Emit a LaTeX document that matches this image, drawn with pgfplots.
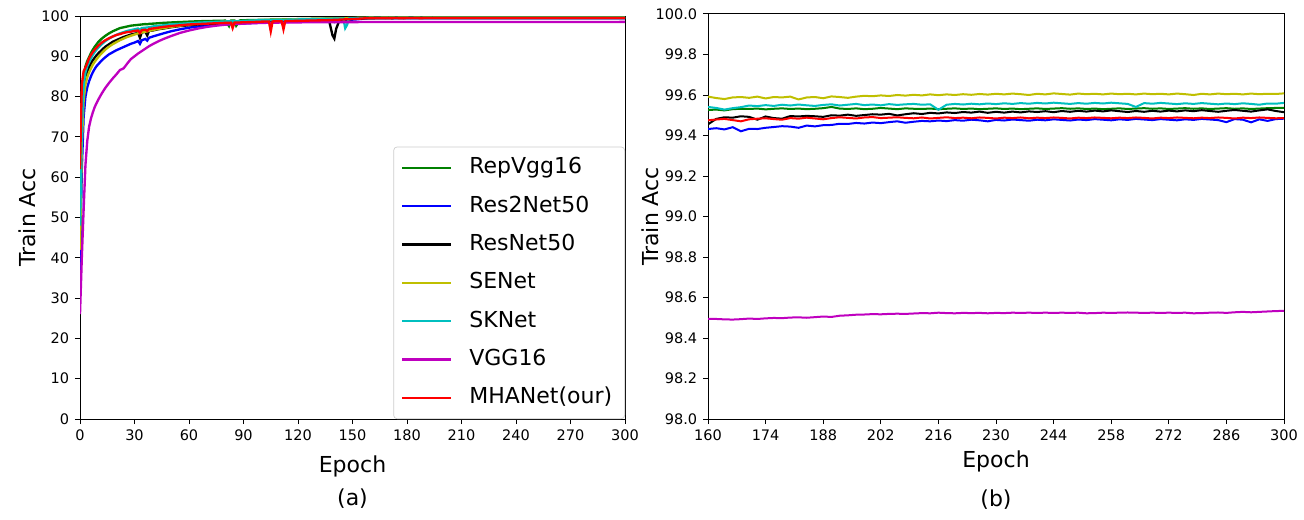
\documentclass[border=0pt]{standalone}
\usepackage{fontspec}
\setmainfont{DejaVu Sans}
\usepackage{pgfplots}
\usepackage{pgfplotstable}
\pgfplotsset{compat=1.18}
\definecolor{mg}{rgb}{0,0.5,0}
\definecolor{mb}{rgb}{0,0,1}
\definecolor{mk}{rgb}{0,0,0}
\definecolor{my}{rgb}{0.75,0.75,0}
\definecolor{mc}{rgb}{0,0.75,0.75}
\definecolor{mm}{rgb}{0.75,0,0.75}
\definecolor{mr}{rgb}{1,0,0}

\pgfplotstableread{
ep G B K Y C M R
0 40 35 50 42 48 26 62
1 75 62 74 68 72 40 83
2 85 75 82.5 79 83 52 86.3
3 87.5 80 85 83 86 63 87.2
4 88.8 82.3 86.3 84.8 87.5 69 88.3
5 89.8 83.8 87.3 86.0 88.5 72.5 89.5
6 90.8 85.0 88.2 87.0 89.5 74.5 90.3
7 91.6 86.0 89.0 87.9 90.3 76.0 91.0
8 92.3 86.8 89.6 88.6 91.0 77.3 91.6
9 92.9 87.5 90.2 89.2 91.6 78.3 92.1
10 93.5 88.0 90.7 89.8 92.1 79.2 92.6
12 94.4 89.0 91.6 90.8 93.0 80.8 93.4
14 95.1 89.8 92.4 91.7 93.8 82.2 94.0
16 95.7 90.5 93.0 92.4 94.4 83.4 94.5
18 96.2 91.0 93.6 93.0 94.9 84.5 94.9
20 96.6 91.5 94.0 93.5 95.3 85.5 95.3
22 97.0 91.9 94.4 94.0 95.7 86.6 95.5
24 97.2 92.3 94.8 94.4 96.0 87.0 95.8
26 97.4 92.7 95.1 94.8 96.3 88.2 96.0
28 97.6 93.1 95.4 95.1 96.5 89.3 96.1
30 97.7 93.4 95.6 95.4 96.7 90.0 96.3
32 97.8 93.8 95.8 95.7 96.9 90.7 96.4
33 97.85 93.1 94.6 95.8 96.6 91.0 95.8
34 97.9 94.0 95.9 95.9 97.0 91.3 96.5
36 98.0 94.3 96.1 96.1 97.1 91.9 96.6
37 97.95 93.9 95.2 96.2 97.15 92.2 96.3
38 98.05 94.6 96.3 96.3 97.2 92.5 96.8
40 98.1 94.9 96.4 96.5 97.4 93.0 96.9
43 98.2 95.3 96.7 96.8 97.55 93.7 97.1
46 98.3 95.7 96.9 97.0 97.7 94.3 97.3
50 98.4 96.2 97.2 97.3 97.9 95.0 97.5
55 98.5 96.7 97.5 97.6 98.05 95.8 97.7
60 98.6 97.1 97.7 97.9 98.2 96.4 97.9
65 98.7 97.4 97.9 98.1 98.35 96.9 98.0
70 98.75 97.6 98.05 98.3 98.45 97.3 98.1
75 98.8 97.8 98.15 98.45 98.55 97.6 98.2
80 98.85 97.95 98.25 98.6 98.65 97.85 98.3
82 97.5 98.0 98.3 98.62 98.67 97.9 98.3
83 98.85 98.0 98.3 98.63 98.68 97.95 98.35
84 98.9 98.05 98.32 98.64 98.69 97.97 97.0
85 98.9 98.05 98.33 98.65 98.7 98.0 98.35
86 97.6 98.1 98.35 98.66 98.71 98.02 98.4
88 98.9 98.1 98.38 98.68 98.73 98.05 98.4
90 98.95 98.15 98.4 98.7 98.8 98.1 98.45
95 99.0 98.25 98.5 98.82 98.88 98.2 98.5
100 99.05 98.35 98.6 98.95 98.95 98.28 98.6
104 99.08 98.42 98.65 99.0 99.0 98.32 98.65
105 99.1 98.43 98.66 99.01 99.01 98.33 96.2
106 99.1 98.45 98.68 99.02 99.02 98.34 98.65
108 99.12 98.47 98.7 99.05 99.03 98.35 98.7
110 99.15 98.5 98.72 99.08 99.05 98.37 98.7
111 99.15 98.5 98.73 99.09 99.06 98.38 98.7
112 99.16 98.52 98.74 99.1 99.07 98.38 96.7
113 99.17 98.53 98.75 99.11 99.08 98.39 98.75
115 99.18 98.55 98.77 99.13 99.1 98.4 98.75
120 99.22 98.62 98.85 99.2 99.15 98.42 98.8
125 99.26 98.7 98.92 99.25 99.2 98.44 98.85
130 99.3 98.78 99.0 99.3 99.25 98.45 98.9
135 99.34 98.85 99.05 99.35 99.3 98.46 98.95
137 99.35 98.88 99.08 99.37 99.32 98.47 98.98
139 99.37 98.8 95.2 99.38 99.33 98.47 99.02
140 99.38 98.5 94.4 99.39 99.35 98.48 99.05
141 99.38 98.85 96.8 99.4 99.35 98.48 99.06
143 99.4 98.95 99.15 99.42 99.37 98.48 99.1
145 99.42 99.0 99.2 99.44 99.4 98.49 99.15
146 99.43 99.02 99.22 99.45 97.0 98.49 99.17
147 99.43 99.04 99.24 99.46 97.8 98.49 99.19
148 99.44 99.06 99.26 99.47 99.4 98.49 99.21
150 99.46 99.1 99.3 99.5 99.45 98.49 99.25
153 99.48 99.2 99.36 99.53 99.48 98.49 99.32
156 99.5 99.33 99.42 99.56 99.51 98.5 99.4
158 99.52 99.42 99.45 99.58 99.53 98.495 99.45
}\early

\pgfplotstableread{
ep G B K Y C M R
160 99.526 99.432 99.455 99.592 99.541 98.495 99.475
162 99.528 99.436 99.482 99.585 99.536 98.494 99.479
164 99.524 99.430 99.490 99.580 99.528 98.492 99.482
166 99.530 99.441 99.488 99.588 99.535 98.491 99.476
168 99.532 99.421 99.495 99.590 99.540 98.493 99.470
170 99.531 99.433 99.492 99.586 99.548 98.496 99.480
172 99.533 99.432 99.478 99.592 99.545 98.494 99.483
174 99.529 99.438 99.494 99.583 99.550 98.497 99.485
176 99.532 99.442 99.486 99.590 99.546 98.499 99.481
178 99.534 99.446 99.483 99.588 99.552 98.498 99.478
180 99.531 99.444 99.496 99.592 99.548 98.501 99.486
182 99.533 99.438 99.494 99.578 99.553 98.502 99.483
184 99.530 99.449 99.497 99.588 99.549 98.500 99.488
186 99.532 99.445 99.495 99.590 99.546 98.503 99.484
188 99.535 99.451 99.492 99.584 99.551 98.506 99.480
190 99.541 99.452 99.500 99.593 99.554 98.504 99.486
192 99.533 99.458 99.498 99.590 99.548 98.510 99.490
194 99.531 99.457 99.503 99.586 99.552 98.512 99.487
196 99.534 99.462 99.497 99.592 99.556 98.515 99.484
198 99.530 99.459 99.501 99.596 99.550 98.516 99.489
200 99.532 99.464 99.505 99.594 99.553 98.518 99.491
202 99.536 99.461 99.503 99.598 99.549 98.517 99.486
204 99.533 99.466 99.507 99.595 99.555 98.519 99.488
206 99.530 99.470 99.499 99.600 99.551 98.520 99.490
208 99.534 99.463 99.505 99.597 99.554 98.519 99.487
210 99.532 99.468 99.510 99.601 99.556 98.521 99.485
212 99.531 99.472 99.506 99.598 99.552 98.523 99.489
214 99.533 99.470 99.512 99.603 99.554 98.522 99.484
216 99.530 99.474 99.509 99.599 99.527 98.525 99.487
218 99.532 99.471 99.514 99.603 99.552 98.523 99.490
220 99.534 99.476 99.511 99.600 99.556 98.522 99.486
222 99.531 99.473 99.516 99.604 99.553 98.524 99.488
224 99.533 99.478 99.513 99.601 99.557 98.523 99.485
226 99.530 99.475 99.518 99.605 99.554 98.524 99.489
228 99.532 99.470 99.512 99.602 99.558 98.522 99.487
230 99.534 99.477 99.517 99.606 99.555 98.524 99.484
232 99.531 99.474 99.513 99.603 99.559 98.523 99.488
234 99.533 99.479 99.518 99.607 99.556 98.525 99.486
236 99.530 99.476 99.514 99.604 99.560 98.524 99.489
238 99.532 99.473 99.519 99.600 99.557 98.525 99.485
240 99.534 99.478 99.516 99.606 99.561 98.524 99.488
242 99.531 99.475 99.520 99.603 99.558 98.525 99.486
244 99.533 99.480 99.515 99.608 99.562 98.524 99.489
246 99.535 99.477 99.521 99.605 99.559 98.525 99.487
248 99.532 99.474 99.517 99.602 99.556 98.524 99.484
250 99.534 99.479 99.522 99.607 99.560 98.525 99.488
252 99.531 99.476 99.518 99.604 99.557 98.522 99.486
254 99.533 99.481 99.523 99.606 99.561 98.523 99.489
256 99.530 99.478 99.519 99.603 99.558 98.525 99.487
258 99.532 99.475 99.524 99.607 99.562 98.524 99.485
260 99.534 99.480 99.520 99.604 99.559 98.525 99.488
262 99.531 99.477 99.516 99.606 99.556 98.526 99.486
264 99.533 99.482 99.521 99.603 99.541 98.525 99.489
266 99.535 99.479 99.517 99.607 99.560 98.524 99.487
268 99.532 99.476 99.522 99.604 99.557 98.525 99.484
270 99.534 99.481 99.518 99.606 99.561 98.524 99.488
272 99.531 99.478 99.523 99.603 99.558 98.525 99.486
274 99.533 99.475 99.519 99.607 99.555 98.524 99.489
276 99.535 99.480 99.524 99.604 99.559 98.525 99.487
278 99.532 99.477 99.520 99.600 99.556 98.522 99.485
280 99.534 99.482 99.525 99.606 99.560 98.523 99.488
282 99.531 99.479 99.521 99.603 99.557 98.525 99.486
284 99.533 99.476 99.517 99.607 99.554 98.526 99.489
286 99.535 99.466 99.522 99.604 99.558 98.524 99.487
288 99.532 99.481 99.526 99.606 99.555 98.527 99.484
290 99.534 99.478 99.522 99.603 99.559 98.529 99.488
292 99.531 99.465 99.518 99.607 99.556 98.527 99.486
294 99.533 99.480 99.524 99.604 99.552 98.529 99.489
296 99.535 99.472 99.529 99.606 99.558 98.531 99.487
298 99.536 99.481 99.521 99.605 99.557 98.533 99.485
300 99.536 99.483 99.515 99.608 99.561 98.534 99.486
}\late

\pgfplotstablevertcat{\early}{\late}

\pgfplotsset{
  common/.style={
    scale only axis,
    axis line style={line width=0.6pt},
    tick style={line width=0.6pt, black},
    major tick length=3pt,
    tick align=outside,
    tick pos=left,
    ticklabel style={font=\fontsize{8.7}{10}\selectfont},
    label style={font=\fontsize{13.2}{15}\selectfont},
    /pgf/number format/assume math mode=true,
    every axis plot/.append style={line width=1.4pt},
  }
}

\begin{document}
\begin{tikzpicture}
\path[use as bounding box] (0,0) rectangle (782.4pt,311.4pt);

\begin{axis}[common,
  at={(48pt,60pt)}, anchor=south west,
  width=327pt, height=241.8pt,
  xmin=0, xmax=300, ymin=0, ymax=100,
  xtick={0,30,...,300}, ytick={0,10,...,100},
  xlabel={Epoch}, ylabel={Train Acc},
  xlabel style={at={(axis description cs:0.5,-0.1166)}, anchor=center},
  ylabel style={at={(axis description cs:-0.097,0.5)}, anchor=center},
  legend cell align=left,
  legend image code/.code={\draw[#1, line width=1.4pt] (0pt,0pt) -- (29pt,0pt);},
  legend style={at={(axis description cs:1,0)}, anchor=south east,
    draw=black!20, rounded corners=2pt, fill=white,
    font=\fontsize{13.2}{15}\selectfont,
    inner xsep=4.5pt, inner ysep=1pt, row sep=0pt,
    /tikz/every odd column/.append style={column sep=7.5pt},
    nodes={inner xsep=3pt, inner ysep=5pt, text height=10pt, text depth=3pt}},
]
\addplot[mg] table[x=ep,y=G]{\early};
\addlegendentry{RepVgg16}
\addplot[mb] table[x=ep,y=B]{\early};
\addlegendentry{Res2Net50}
\addplot[mk] table[x=ep,y=K]{\early};
\addlegendentry{ResNet50}
\addplot[my] table[x=ep,y=Y]{\early};
\addlegendentry{SENet}
\addplot[mc] table[x=ep,y=C]{\early};
\addlegendentry{SKNet}
\addplot[mm] table[x=ep,y=M]{\early};
\addlegendentry{VGG16}
\addplot[mr] table[x=ep,y=R]{\early};
\addlegendentry{MHANet(our)}
\end{axis}

\begin{axis}[common,
  at={(424.8pt,60pt)}, anchor=south west,
  width=345.6pt, height=243pt,
  xmin=160, xmax=300, ymin=98, ymax=100,
  xtick={160,174,...,300},
  ytick={98,98.2,98.4,98.6,98.8,99,99.2,99.4,99.6,99.8,100},
  yticklabel style={/pgf/number format/.cd, fixed, fixed zerofill, precision=1},
  xlabel={Epoch}, ylabel={Train Acc},
  xlabel style={at={(axis description cs:0.5,-0.104)}, anchor=center},
  ylabel style={at={(axis description cs:-0.1,0.5)}, anchor=center},
  every axis plot/.append style={line width=1.2pt},
]
\addplot[mg] table[x=ep,y=G]{\late};
\addplot[mb] table[x=ep,y=B]{\late};
\addplot[mk] table[x=ep,y=K]{\late};
\addplot[my] table[x=ep,y=Y]{\late};
\addplot[mc] table[x=ep,y=C]{\late};
\addplot[mm] table[x=ep,y=M]{\late};
\addplot[mr] table[x=ep,y=R]{\late};
\end{axis}

\node[font=\fontsize{13.2}{15}\selectfont] at (211.5pt,12pt) {(a)};
\node[font=\fontsize{13.2}{15}\selectfont] at (597.6pt,11.4pt) {(b)};
\end{tikzpicture}
\end{document}
